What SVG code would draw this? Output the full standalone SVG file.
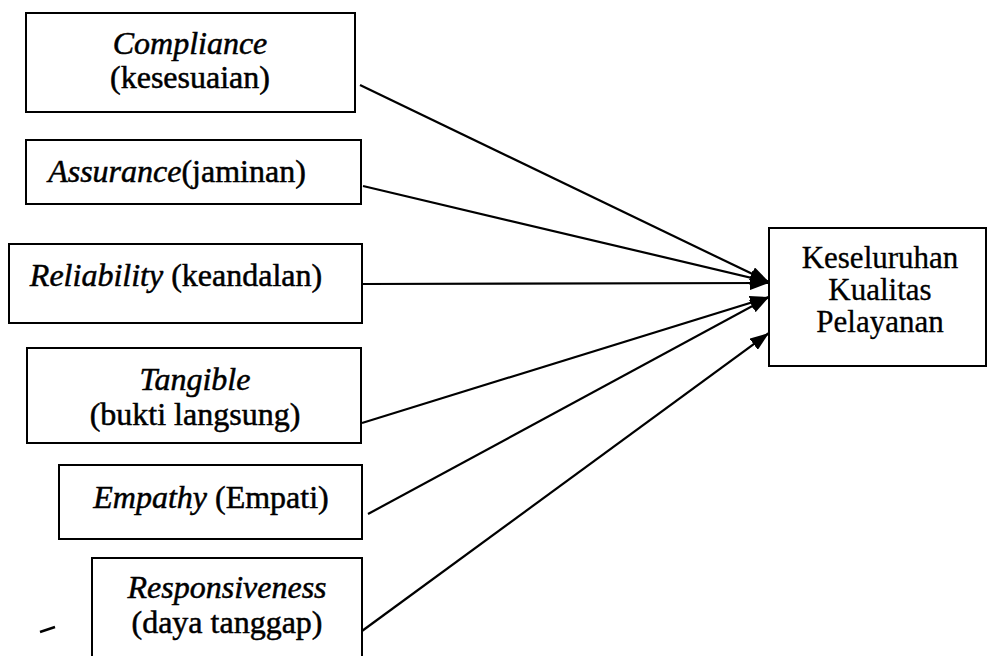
<svg xmlns="http://www.w3.org/2000/svg" width="989" height="656" viewBox="0 0 989 656">
<style>
.box{fill:#fff;stroke:#000;stroke-width:2}
.t{font-family:"Liberation Serif","Times New Roman",serif;font-size:32px;fill:#000;text-anchor:middle;stroke:#000;stroke-width:0.5}
.r{font-size:31px;stroke-width:0.3}
.i{font-style:italic}
.conn line{stroke:#000;stroke-width:2.2;marker-end:url(#arr)}
</style>
<defs>
<marker id="arr" markerUnits="userSpaceOnUse" markerWidth="19" markerHeight="14" refX="19" refY="7" orient="auto">
<path d="M0,0 L19,7 L0,14 z" fill="#000"/>
</marker>
</defs>
<rect width="989" height="656" fill="#fff"/>
<g id="compliance">
<rect class="box" x="26" y="13" width="329" height="99"/>
<text class="t" x="190" y="54"><tspan class="i">Compliance</tspan></text>
<text class="t" x="190" y="88">(kesesuaian)</text>
</g>
<g id="assurance">
<rect class="box" x="26" y="140" width="335" height="64"/>
<text class="t" x="177" y="182"><tspan class="i">Assurance</tspan>(jaminan)</text>
</g>
<g id="reliability">
<rect class="box" x="9" y="244" width="353" height="79"/>
<text class="t" x="176" y="286"><tspan class="i">Reliability</tspan> (keandalan)</text>
</g>
<g id="tangible">
<rect class="box" x="27" y="348" width="334" height="95"/>
<text class="t" x="195" y="390"><tspan class="i">Tangible</tspan></text>
<text class="t" x="195" y="425">(bukti langsung)</text>
</g>
<g id="empathy">
<rect class="box" x="59" y="465" width="303" height="74"/>
<text class="t" x="211" y="508"><tspan class="i">Empathy</tspan> (Empati)</text>
</g>
<g id="responsiveness">
<rect class="box" x="92" y="558" width="270" height="106"/>
<text class="t" x="227" y="598"><tspan class="i">Responsiveness</tspan></text>
<text class="t" x="227" y="633">(daya tanggap)</text>
</g>
<g id="kualitas">
<rect class="box" x="769" y="228" width="217" height="138"/>
<text class="t r" x="880" y="268">Keseluruhan</text>
<text class="t r" x="880" y="300">Kualitas</text>
<text class="t r" x="880" y="332">Pelayanan</text>
</g>
<g class="conn" id="connectors">
<line x1="360" y1="85" x2="769" y2="282"/>
<line x1="363" y1="186" x2="769" y2="282"/>
<line x1="363" y1="284" x2="769" y2="283"/>
<line x1="362" y1="423" x2="769" y2="297"/>
<line x1="368" y1="514" x2="769" y2="297"/>
<line x1="362" y1="631" x2="769" y2="333"/>
</g>
<line x1="40" y1="632" x2="55" y2="627" stroke="#000" stroke-width="2.5"/>
</svg>
